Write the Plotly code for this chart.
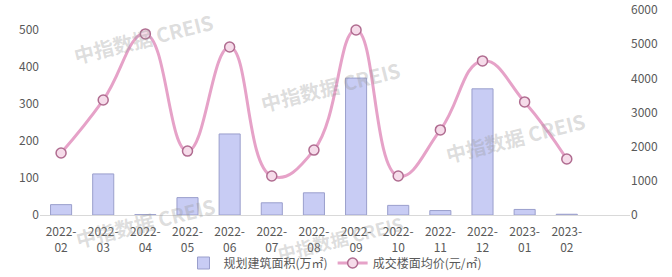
import plotly.graph_objects as go

months = ["2022-02", "2022-03", "2022-04", "2022-05", "2022-06", "2022-07", "2022-08",
          "2022-09", "2022-10", "2022-11", "2022-12", "2023-01", "2023-02"]
tick_labels = [m.replace("-", "-<br>") for m in months]
area = [28, 111, 1, 47, 219, 33, 60, 370, 26, 12, 341, 15, 2]
price = [1815, 3365, 5300, 1870, 4917, 1140, 1900, 5415, 1140, 2490, 4510, 3310, 1640]

bar_name = "规划建筑面积(万㎡)"
line_name = "成交楼面均价(元/㎡)"
font_family = "Noto Sans CJK SC, Noto Sans, sans-serif"

W, H = 672, 277
L, R, T, B = 40, 42, 10, 62
PW, PH = W - L - R, H - T - B

fig = go.Figure()
fig.add_trace(go.Bar(
    x=months, y=area, name=bar_name, width=0.5,
    marker=dict(color="#c8ccf4", line=dict(color="#9a9fcc", width=1)),
))
fig.add_trace(go.Scatter(
    x=months, y=price, name=line_name, yaxis="y2", mode="lines+markers",
    line=dict(color="#e6a2c8", width=3, shape="spline", smoothing=1.3),
    marker=dict(size=10, color="#f6dcea", line=dict(color="#b06c90", width=1.5)),
))

wm = [(143, 38, 20), (330, 86, 20), (515, 137, 20), (145, 222, 20), (340, 238, 18)]
for (px, py, fs) in wm:
    fig.add_annotation(
        x=(px - L) / PW, y=(H - B - py) / PH, xref="paper", yref="paper",
        xanchor="center", yanchor="middle",
        text="<b>中指数据 CREIS</b>", showarrow=False, textangle=-14,
        font=dict(family=font_family, size=fs, color="rgba(150,150,150,0.33)"),
    )

fig.update_layout(
    width=W, height=H,
    margin=dict(l=L, r=R, t=T, b=B, autoexpand=False),
    plot_bgcolor="white", paper_bgcolor="white",
    font=dict(family=font_family, size=12, color="#595959"),
    showlegend=True,
    legend=dict(orientation="h", x=0.5, xanchor="center", y=1 - 263 / 277, yanchor="middle",
                yref="container",
                font=dict(size=12, color="#595959"), itemwidth=30,
                bgcolor="rgba(0,0,0,0)"),
    xaxis=dict(type="category", categoryorder="array", categoryarray=months,
               tickvals=months, ticktext=tick_labels, automargin=False,
               range=[-0.5, 13.5], showline=True, linecolor="#d9d9d9", linewidth=1,
               ticks="", showgrid=False, ticklabelstandoff=6,
               tickfont=dict(size=12, color="#595959")),
    yaxis=dict(range=[0, 554], tickvals=[0, 100, 200, 300, 400, 500], automargin=False,
               showgrid=False, zeroline=False, showline=False, ticks="",
               tickfont=dict(size=12, color="#595959")),
    yaxis2=dict(range=[0, 6000], overlaying="y", side="right", automargin=False,
                tickvals=[0, 1000, 2000, 3000, 4000, 5000, 6000],
                showgrid=False, zeroline=False, showline=False, ticks="",
                tickfont=dict(size=12, color="#595959")),
)

fig.write_html("out.html")
